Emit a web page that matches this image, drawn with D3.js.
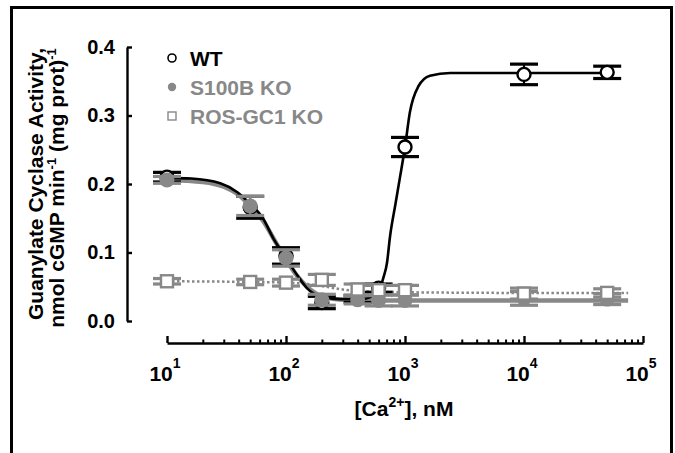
<!DOCTYPE html>
<html>
<head>
<meta charset="utf-8">
<script src="https://cdn.jsdelivr.net/npm/d3@7"></script>
<style>
  html, body { margin: 0; padding: 0; background: #fff; }
  svg { display: block; }
  text { font-family: "Liberation Sans", Arial, sans-serif; font-weight: bold; }
</style>
</head>
<body>
<svg id="chart" width="675" height="453"></svg>
<script>
// ---------- data ----------
const concentrations = [10, 50, 100, 200, 400, 600, 1000, 10000, 50000];

const wtMean   = [0.210, 0.166, 0.095, 0.027, 0.032, 0.048, 0.254, 0.360, 0.363];
const wtErr    = [0.007, 0.016, 0.012, 0.009, 0.005, 0.006, 0.014, 0.015, 0.009];

const s100bMean = [0.206, 0.168, 0.092, 0.031, 0.031, 0.030, 0.030, 0.033, 0.032];
const s100bErr  = [0.005, 0.014, 0.012, 0.008, 0.006, 0.008, 0.008, 0.010, 0.008];

const rosMean  = [0.058, 0.057, 0.056, 0.060, 0.046, 0.045, 0.045, 0.040, 0.041];
const rosErr   = [0.004, 0.004, 0.005, 0.008, 0.008, 0.007, 0.007, 0.008, 0.006];

// fitted curves
const wtCurveX = [10, 16, 28, 39, 50, 64, 78, 100, 124, 150, 193, 284, 420, 540, 610, 655, 706, 748, 830, 908, 1000, 1100, 1290, 1620, 2400, 50000];
const wtCurveY = [0.209, 0.208, 0.201, 0.188, 0.171, 0.150, 0.121, 0.092, 0.067, 0.048, 0.036, 0.032, 0.032, 0.036, 0.045, 0.062, 0.085, 0.123, 0.170, 0.210, 0.254, 0.305, 0.342, 0.358, 0.362, 0.362];

const s100bCurveX = [10, 20, 30, 40, 50, 65, 80, 100, 125, 150, 200, 300, 500, 75000];
const s100bCurveY = [0.206, 0.203, 0.196, 0.184, 0.168, 0.145, 0.118, 0.090, 0.065, 0.050, 0.036, 0.031, 0.030, 0.030];

const rosCurveX = [10, 50, 100, 150, 200, 300, 500, 1000, 10000, 75000];
const rosCurveY = [0.058, 0.057, 0.056, 0.054, 0.051, 0.046, 0.043, 0.042, 0.041, 0.041];

const xTickValues = [10, 100, 1000, 10000, 100000];
const xTickExponents = ["1", "2", "3", "4", "5"];
const yTickValues = [0, 0.1, 0.2, 0.3, 0.4];

const seriesNames = ["WT", "S100B KO", "ROS-GC1 KO"];

// ---------- drawing ----------
const BLACK = "#000";
const GRAY = "#888";

const svg = d3.select("#chart");

// outer frame
svg.append("rect")
  .attr("x", 11.5).attr("y", 7.5)
  .attr("width", 660).attr("height", 460)
  .attr("fill", "none").attr("stroke", BLACK).attr("stroke-width", 3);

const x = d3.scaleLog().domain([10, 100000]).range([167, 643]);
const y = d3.scaleLinear().domain([0, 0.4]).range([321, 47]);

// ---- Y axis ----
const yAxis = d3.axisLeft(y)
  .tickValues(yTickValues)
  .tickFormat(d3.format(".1f"))
  .tickSizeInner(-5)
  .tickSizeOuter(0)
  .tickPadding(12);
const gy = svg.append("g").attr("transform", "translate(127,0)").call(yAxis);
gy.select(".domain").attr("stroke-width", 2.4);
gy.selectAll(".tick line").attr("stroke-width", 2.4);
gy.selectAll(".tick text")
  .attr("font-size", 20).attr("fill", BLACK)
  .attr("font-family", "Liberation Sans, Arial, sans-serif");

// ---- X axis ----
const minorTicks = [];
for (let k = 1; k < 5; k++) {
  for (let m = 2; m <= 9; m++) minorTicks.push(m * Math.pow(10, k));
}
const xAxisMinor = d3.axisBottom(x).tickValues(minorTicks).tickFormat("").tickSizeInner(-3.5).tickSizeOuter(0);
const xAxisMajor = d3.axisBottom(x).tickValues(xTickValues).tickFormat("").tickSizeInner(-7).tickSizeOuter(0);
const gxm = svg.append("g").attr("transform", "translate(0,343)").call(xAxisMinor);
gxm.select(".domain").attr("stroke-width", 2.4);
gxm.selectAll(".tick line").attr("stroke-width", 2);
const gxM = svg.append("g").attr("transform", "translate(0,343)").call(xAxisMajor);
gxM.select(".domain").remove();
gxM.selectAll(".tick line").attr("stroke-width", 2.4);

// x tick labels 10^n
const xl = svg.append("g");
xTickValues.forEach((v, i) => {
  const t = xl.append("text")
    .attr("x", x(v) - 2)
    .attr("y", 381)
    .attr("text-anchor", "middle")
    .attr("font-size", 21)
    .attr("fill", BLACK);
  t.append("tspan").text("10");
  t.append("tspan").attr("dy", -13).attr("font-size", 14).text(xTickExponents[i]);
});

// x title
const xt = svg.append("text")
  .attr("x", 404).attr("y", 416)
  .attr("text-anchor", "middle")
  .attr("font-size", 21).attr("fill", BLACK);
xt.append("tspan").text("[Ca");
xt.append("tspan").attr("dy", -9).attr("font-size", 14).text("2+");
xt.append("tspan").attr("dy", 9).text("], nM");

// y title (two lines)
svg.append("text")
  .attr("transform", "translate(43,184) rotate(-90)")
  .attr("text-anchor", "middle")
  .attr("font-size", 21).attr("fill", BLACK)
  .text("Guanylate Cyclase Activity,");
const yt2 = svg.append("text")
  .attr("transform", "translate(64,188) rotate(-90)")
  .attr("text-anchor", "middle")
  .attr("font-size", 21).attr("fill", BLACK);
yt2.append("tspan").text("nmol cGMP min");
yt2.append("tspan").attr("dy", -8).attr("font-size", 13).text("-1");
yt2.append("tspan").attr("dy", 8).text(" (mg prot)");
yt2.append("tspan").attr("dy", -8).attr("font-size", 13).text("-1");

// ---- curves ----
const line = d3.line()
  .x(d => x(d[0])).y(d => y(d[1]))
  .curve(d3.curveMonotoneX);

svg.append("path")
  .datum(d3.zip(s100bCurveX, s100bCurveY))
  .attr("d", line).attr("fill", "none")
  .attr("stroke", GRAY).attr("stroke-width", 4.5);

svg.append("path")
  .datum(d3.zip(rosCurveX, rosCurveY))
  .attr("d", line).attr("fill", "none")
  .attr("stroke", GRAY).attr("stroke-width", 2.5)
  .attr("stroke-dasharray", "2.5,2.5");

svg.append("path")
  .datum(d3.zip(wtCurveX, wtCurveY))
  .attr("d", line).attr("fill", "none")
  .attr("stroke", BLACK).attr("stroke-width", 2.6);

// ---- error bars + markers ----
function errorBars(means, errs, color) {
  const g = svg.append("g");
  concentrations.forEach((c, i) => {
    const cx = x(c), top = y(means[i] + errs[i]), bot = y(means[i] - errs[i]);
    g.append("line").attr("x1", cx).attr("x2", cx).attr("y1", top).attr("y2", bot)
      .attr("stroke", color).attr("stroke-width", 2.2);
    [top, bot].forEach(yy => {
      g.append("line").attr("x1", cx - 14).attr("x2", cx + 14).attr("y1", yy).attr("y2", yy)
        .attr("stroke", color).attr("stroke-width", 3.2);
    });
  });
  return g;
}

// WT
errorBars(wtMean, wtErr, BLACK);
svg.append("g").selectAll("circle")
  .data(d3.zip(concentrations, wtMean)).join("circle")
  .attr("cx", d => x(d[0])).attr("cy", d => y(d[1])).attr("r", 6.5)
  .attr("fill", "#fff").attr("stroke", BLACK).attr("stroke-width", 2.4);

// S100B KO
errorBars(s100bMean, s100bErr, GRAY);
svg.append("g").selectAll("circle")
  .data(d3.zip(concentrations, s100bMean)).join("circle")
  .attr("cx", d => x(d[0])).attr("cy", d => y(d[1])).attr("r", 7.5)
  .attr("fill", GRAY);

// ROS-GC1 KO
errorBars(rosMean, rosErr, GRAY);
svg.append("g").selectAll("rect")
  .data(d3.zip(concentrations, rosMean)).join("rect")
  .attr("x", d => x(d[0]) - 6).attr("y", d => y(d[1]) - 6)
  .attr("width", 12).attr("height", 12)
  .attr("fill", "#fff").attr("stroke", GRAY).attr("stroke-width", 2.4);

// ---- legend ----
const legendY = [58, 87, 116];
const lg = svg.append("g");
lg.append("circle").attr("cx", 172).attr("cy", legendY[0]).attr("r", 4)
  .attr("fill", "#fff").attr("stroke", BLACK).attr("stroke-width", 1.6);
lg.append("circle").attr("cx", 172).attr("cy", legendY[1]).attr("r", 4.2).attr("fill", GRAY);
lg.append("rect").attr("x", 168).attr("y", legendY[2] - 4).attr("width", 8).attr("height", 8)
  .attr("fill", "#fff").attr("stroke", GRAY).attr("stroke-width", 1.4);
seriesNames.forEach((n, i) => {
  lg.append("text").attr("x", 190).attr("y", legendY[i] + 7.5)
    .attr("font-size", 21).attr("fill", i === 0 ? BLACK : GRAY).text(n);
});
</script>
</body>
</html>
